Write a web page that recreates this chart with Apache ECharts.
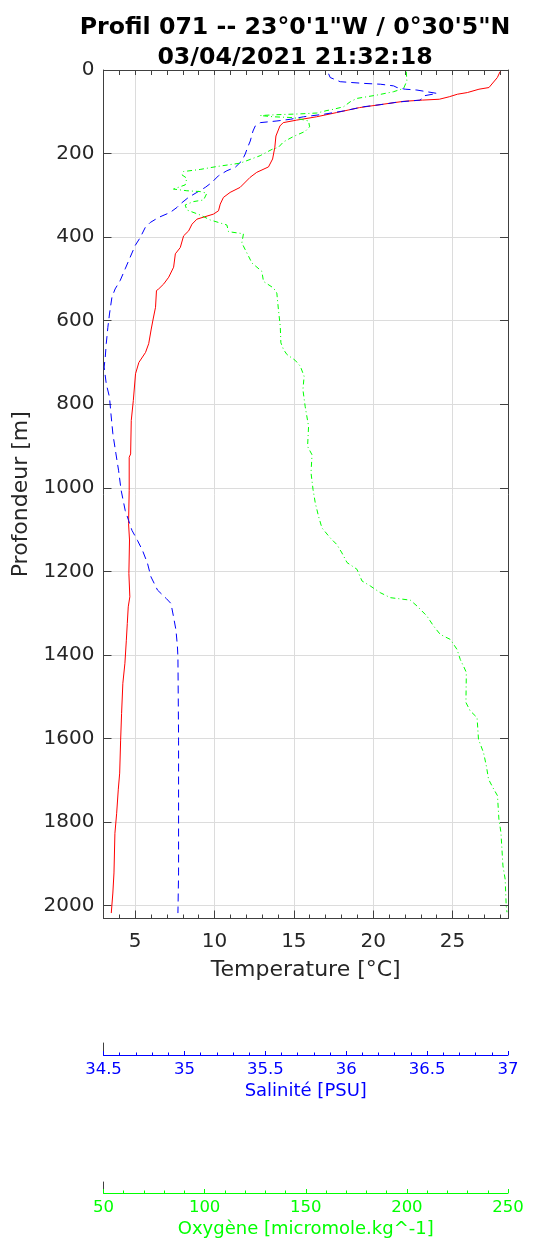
<!DOCTYPE html>
<html><head><meta charset="utf-8">
<script src="https://cdn.jsdelivr.net/npm/echarts@6/dist/echarts.min.js"></script>
<style>html,body{margin:0;padding:0;background:#fff}#c{width:537px;height:1239px}</style>
</head><body><div id="c"></div>
<script>
const titleLines = ['Profil 071 -- 23°0\'1"W / 0°30\'5"N', '03/04/2021 21:32:18'];
const depthRange = [0, 2031];
const tempRange = [3, 28.5];
const salRange = [34.5, 37];
const oxyRange = [50, 250];
// [temperature °C, depth m]
const tempProfile = [[28.0,4],[27.83,18],[27.3,42],[26.67,46],[25.94,54],[25.31,58],[24.8,64],[24.17,70],[23.12,72],[21.91,75],[20.61,82],[19.14,90],[17.68,102],[16.43,112],[15.17,120],[14.33,126],[14.12,134],[13.87,158],[13.8,185],[13.66,213],[13.4,232],[12.66,245],[12.24,257],[11.61,281],[10.98,293],[10.56,305],[10.36,321],[10.25,337],[9.93,345],[8.89,357],[8.58,369],[8.37,385],[8.05,397],[7.84,425],[7.53,440],[7.42,472],[7.11,496],[6.80,512],[6.48,524],[6.34,528],[6.28,568],[6.13,596],[6.01,620],[5.85,655],[5.65,676],[5.23,700],[5.02,727],[4.88,791],[4.75,839],[4.71,919],[4.62,927],[4.62,1006],[4.58,1086],[4.64,1125],[4.60,1205],[4.66,1261],[4.56,1285],[4.50,1325],[4.44,1365],[4.35,1420],[4.22,1468],[4.14,1540],[4.08,1604],[4.02,1683],[3.93,1723],[3.83,1779],[3.72,1827],[3.66,1922],[3.59,1970],[3.49,2018]];
// [salinity PSU, depth m]
const salProfile = [[35.891,9],[35.901,18],[35.963,28],[36.107,32],[36.211,34],[36.293,38],[36.314,42],[36.365,46],[36.437,48],[36.499,52],[36.561,56],[36.478,62],[36.458,72],[36.396,74],[36.314,77],[36.231,82],[36.107,88],[35.984,98],[35.860,106],[35.736,112],[35.654,118],[35.572,122],[35.469,126],[35.438,134],[35.424,146],[35.407,170],[35.390,186],[35.376,201],[35.356,217],[35.314,233],[35.263,241],[35.211,253],[35.170,269],[35.129,281],[35.077,293],[35.025,305],[34.974,321],[34.954,329],[34.912,341],[34.840,353],[34.789,365],[34.758,377],[34.727,401],[34.696,420],[34.665,448],[34.634,476],[34.603,504],[34.572,524],[34.552,544],[34.537,584],[34.527,616],[34.517,655],[34.511,687],[34.504,711],[34.517,751],[34.537,783],[34.546,823],[34.558,871],[34.577,919],[34.593,958],[34.609,1006],[34.634,1054],[34.655,1078],[34.676,1102],[34.710,1126],[34.741,1150],[34.772,1181],[34.793,1213],[34.834,1245],[34.888,1265],[34.917,1277],[34.933,1309],[34.948,1341],[34.957,1381],[34.960,1405],[34.964,1604],[34.964,1922],[34.960,2018]];
// [oxygen micromole/kg, depth m]
const oxyProfile = [[199.7,4],[200.0,26],[198.4,44],[193.4,52],[185.2,60],[175.3,68],[172.0,76],[168.7,88],[163.7,94],[160.5,97],[155.5,103],[147.3,105],[135.7,107],[127.5,109],[134.1,112],[144.0,114],[151.4,122],[151.9,136],[149.7,147],[144.0,159],[139.0,172],[136.5,185],[133.3,190],[127.5,205],[117.6,223],[106.1,231],[97.8,238],[89.6,243],[88.8,251],[91.2,259],[90.4,275],[84.6,285],[91.2,289],[97.8,291],[101.1,295],[99.5,311],[94.5,315],[90.4,323],[91.2,335],[97.8,347],[102.8,359],[111.0,371],[111.8,387],[111.0,390],[119.2,392],[118.4,414],[120.9,438],[123.4,462],[128.3,482],[129.1,506],[134.1,522],[135.7,534],[136.5,574],[137.4,614],[137.7,653],[139.0,669],[140.7,681],[144.8,695],[147.3,709],[149.2,733],[148.6,765],[149.7,805],[151.4,853],[150.9,901],[153.1,921],[152.6,964],[153.6,1004],[154.7,1036],[156.3,1068],[158.0,1096],[162.1,1120],[165.4,1136],[167.9,1156],[170.4,1179],[175.3,1195],[177.8,1223],[181.9,1235],[186.8,1251],[191.8,1263],[201.7,1269],[205.0,1283],[209.9,1307],[213.2,1331],[216.5,1351],[221.5,1363],[224.8,1387],[226.4,1411],[228.0,1427],[229.4,1442],[229.2,1514],[231.3,1534],[234.7,1550],[235.4,1602],[237.9,1634],[239.3,1666],[240.4,1698],[242.9,1721],[244.8,1737],[245.5,1793],[246.5,1825],[247.5,1905],[248.6,1937],[249.1,2000],[249.5,2016]];

const FONT = 'DejaVu Sans';
const AX = '#404040';
const GRIDC = '#dcdcdc';
const BLUE = '#0000ff';
const GREEN = '#00ff00';

const chart = echarts.init(document.getElementById('c'), null, {renderer: 'canvas'});
const plain = (v) => String(v);
const subY = (gi) => ({gridIndex: gi, type: 'value', min: 0, max: 1,
  axisLine: {show: true, lineStyle: {color: AX}}, axisTick: {show: false},
  axisLabel: {show: false}, splitLine: {show: false}});
chart.setOption({
  animation: false,
  backgroundColor: '#fff',
  textStyle: {fontFamily: FONT},
  title: {text: titleLines.join('\n'), left: 290, top: 8, textAlign: 'center',
    textStyle: {fontFamily: FONT, fontSize: 23.7, fontWeight: 'bold', color: '#000', lineHeight: 30}},
  grid: [
    {left: 103.5, top: 70, width: 404.5, height: 848.5},
    {left: 103.5, top: 1043, width: 404.5, height: 12},
    {left: 103.5, top: 1182, width: 404.5, height: 12}
  ],
  xAxis: [
    {gridIndex: 0, type: 'value', position: 'bottom', min: tempRange[0], max: tempRange[1], splitNumber: 5,
     axisLine: {onZero: false, lineStyle: {color: AX}},
     axisTick: {inside: true, length: 8, lineStyle: {color: AX}},
     minorTick: {show: true, splitNumber: 5, length: 4, lineStyle: {color: AX}},
     axisLabel: {fontSize: 20, color: '#262626', margin: 13, showMinLabel: false, showMaxLabel: false, formatter: plain},
     splitLine: {show: true, lineStyle: {color: GRIDC}},
     name: 'Temperature [°C]', nameLocation: 'middle', nameGap: 41,
     nameTextStyle: {fontSize: 22, color: '#262626'}},
    {gridIndex: 0, type: 'value', position: 'top', min: tempRange[0], max: tempRange[1], splitNumber: 5,
     axisLine: {onZero: false, lineStyle: {color: AX}},
     axisTick: {inside: true, length: 5, lineStyle: {color: AX}},
     minorTick: {show: true, splitNumber: 5, length: 5, lineStyle: {color: AX}},
     axisLabel: {show: false}, splitLine: {show: false}},
    {gridIndex: 0, type: 'value', min: salRange[0], max: salRange[1], show: false},
    {gridIndex: 0, type: 'value', min: oxyRange[0], max: oxyRange[1], show: false},
    {gridIndex: 1, type: 'value', position: 'bottom', min: salRange[0], max: salRange[1], interval: 0.5,
     axisLine: {onZero: false, lineStyle: {color: BLUE}},
     axisTick: {inside: true, length: 4, lineStyle: {color: BLUE}},
     minorTick: {show: true, splitNumber: 5, length: 2.5, lineStyle: {color: BLUE}},
     axisLabel: {fontSize: 16.5, color: BLUE, margin: 6, formatter: plain},
     splitLine: {show: false},
     name: 'Salinité [PSU]', nameLocation: 'middle', nameGap: 27,
     nameTextStyle: {fontSize: 18, color: BLUE}},
    {gridIndex: 2, type: 'value', position: 'bottom', min: oxyRange[0], max: oxyRange[1], interval: 50,
     axisLine: {onZero: false, lineStyle: {color: GREEN}},
     axisTick: {inside: true, length: 4, lineStyle: {color: GREEN}},
     minorTick: {show: true, splitNumber: 5, length: 2.5, lineStyle: {color: GREEN}},
     axisLabel: {fontSize: 16.5, color: GREEN, margin: 6, formatter: plain},
     splitLine: {show: false},
     name: 'Oxygène [micromole.kg^-1]', nameLocation: 'middle', nameGap: 27,
     nameTextStyle: {fontSize: 18, color: GREEN}}
  ],
  yAxis: [
    {gridIndex: 0, type: 'value', position: 'left', inverse: true, min: depthRange[0], max: depthRange[1], interval: 200,
     axisLine: {onZero: false, lineStyle: {color: AX}},
     axisTick: {inside: true, length: 8, lineStyle: {color: AX}},
     axisLabel: {fontSize: 20, color: '#262626', margin: 9, showMaxLabel: false, formatter: plain},
     splitLine: {show: true, lineStyle: {color: GRIDC}},
     name: 'Profondeur [m]', nameLocation: 'middle', nameGap: 66, nameRotate: 90,
     nameTextStyle: {fontSize: 22, color: '#262626'}},
    {gridIndex: 0, type: 'value', position: 'right', inverse: true, min: depthRange[0], max: depthRange[1], interval: 200,
     axisLine: {onZero: false, lineStyle: {color: AX}},
     axisTick: {inside: true, length: 8, lineStyle: {color: AX}},
     axisLabel: {show: false}, splitLine: {show: false}},
    subY(1), subY(2)
  ],
  series: [
    {type: 'line', name: 'Temperature', xAxisIndex: 0, yAxisIndex: 0, data: tempProfile,
     symbol: 'none', lineStyle: {color: '#ff0000', width: 1}, clip: true},
    {type: 'line', name: 'Salinité', xAxisIndex: 2, yAxisIndex: 0, data: salProfile,
     symbol: 'none', lineStyle: {color: BLUE, width: 1, type: [8, 5]}, clip: true},
    {type: 'line', name: 'Oxygène', xAxisIndex: 3, yAxisIndex: 0, data: oxyProfile,
     symbol: 'none', lineStyle: {color: GREEN, width: 1, type: [5, 3, 1, 3]}, clip: true}
  ]
});
</script></body></html>
